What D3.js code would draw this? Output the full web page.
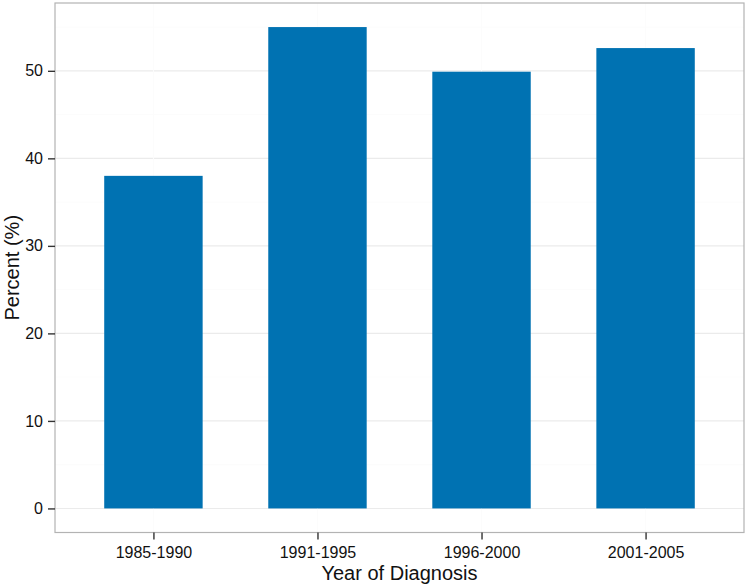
<!DOCTYPE html>
<html><head><meta charset="utf-8">
<script src="https://cdn.jsdelivr.net/npm/d3@7"></script>
<style>body{margin:0;background:#fff}svg{display:block;font-family:"Liberation Sans",Arial,sans-serif}</style>
</head><body><svg id="c" width="750" height="588"></svg>
<script>
const categories = ["1985-1990","1991-1995","1996-2000","2001-2005"];
const percents = [38.0, 55.0, 49.9, 52.6];
const yTicks = [0,10,20,30,40,50];
const yMinor = [5,15,25,35,45,55];

const svg = d3.select("#c");
const L=55, R=744, T=3, B=532.5;
const x = d3.scaleLinear().domain([0.4, categories.length+0.6]).range([L,R]);
const y = d3.scaleLinear().domain([-2.75, 57.75]).range([B,T]);
const bw = (x(1)-x(0))*0.6;

const g = svg.append("g");
g.selectAll(".mn").data(yMinor).enter().append("line")
 .attr("x1",L).attr("x2",R).attr("y1",d=>y(d)).attr("y2",d=>y(d))
 .attr("stroke","#fafafa").attr("stroke-width",0.6);
g.selectAll(".mj").data(yTicks).enter().append("line")
 .attr("x1",L).attr("x2",R).attr("y1",d=>y(d)).attr("y2",d=>y(d))
 .attr("stroke","#ebebeb").attr("stroke-width",1.1);
g.selectAll(".vx").data(categories).enter().append("line")
 .attr("x1",(d,i)=>x(i+1)).attr("x2",(d,i)=>x(i+1)).attr("y1",T).attr("y2",B)
 .attr("stroke","#fcfcfc").attr("stroke-width",1);

g.selectAll(".bar").data(percents).enter().append("rect")
 .attr("x",(d,i)=>x(i+1)-bw/2).attr("width",bw)
 .attr("y",d=>y(d)).attr("height",d=>y(0)-y(d))
 .attr("fill","#0072B2");

svg.append("rect").attr("x",L).attr("y",T).attr("width",R-L).attr("height",B-T)
 .attr("fill","none").attr("stroke","#b3b3b3").attr("stroke-width",1.2);

const ya = svg.append("g").attr("transform",`translate(${L},0)`)
 .call(d3.axisLeft(y).tickValues(yTicks).tickSize(7).tickPadding(5));
const xa = svg.append("g").attr("transform",`translate(0,${B})`)
 .call(d3.axisBottom(x).tickValues(categories.map((d,i)=>i+1)).tickFormat((d)=>categories[d-1]).tickSize(7).tickPadding(7));
[ya,xa].forEach(a=>{
  a.select(".domain").remove();
  a.selectAll(".tick line").attr("stroke","#333").attr("stroke-width",1.4);
  a.selectAll(".tick text").attr("fill","#111").style("font-size","16px").style("font-family","'Liberation Sans',Arial,sans-serif");
});

svg.append("text").attr("x",(L+R)/2).attr("y",580).attr("text-anchor","middle")
 .style("font-size","20px").attr("fill","#111").text("Year of Diagnosis");
svg.append("text").attr("transform",`translate(19,${(T+B)/2}) rotate(-90)`).attr("text-anchor","middle")
 .style("font-size","20px").attr("fill","#111").text("Percent (%)");
</script></body></html>
